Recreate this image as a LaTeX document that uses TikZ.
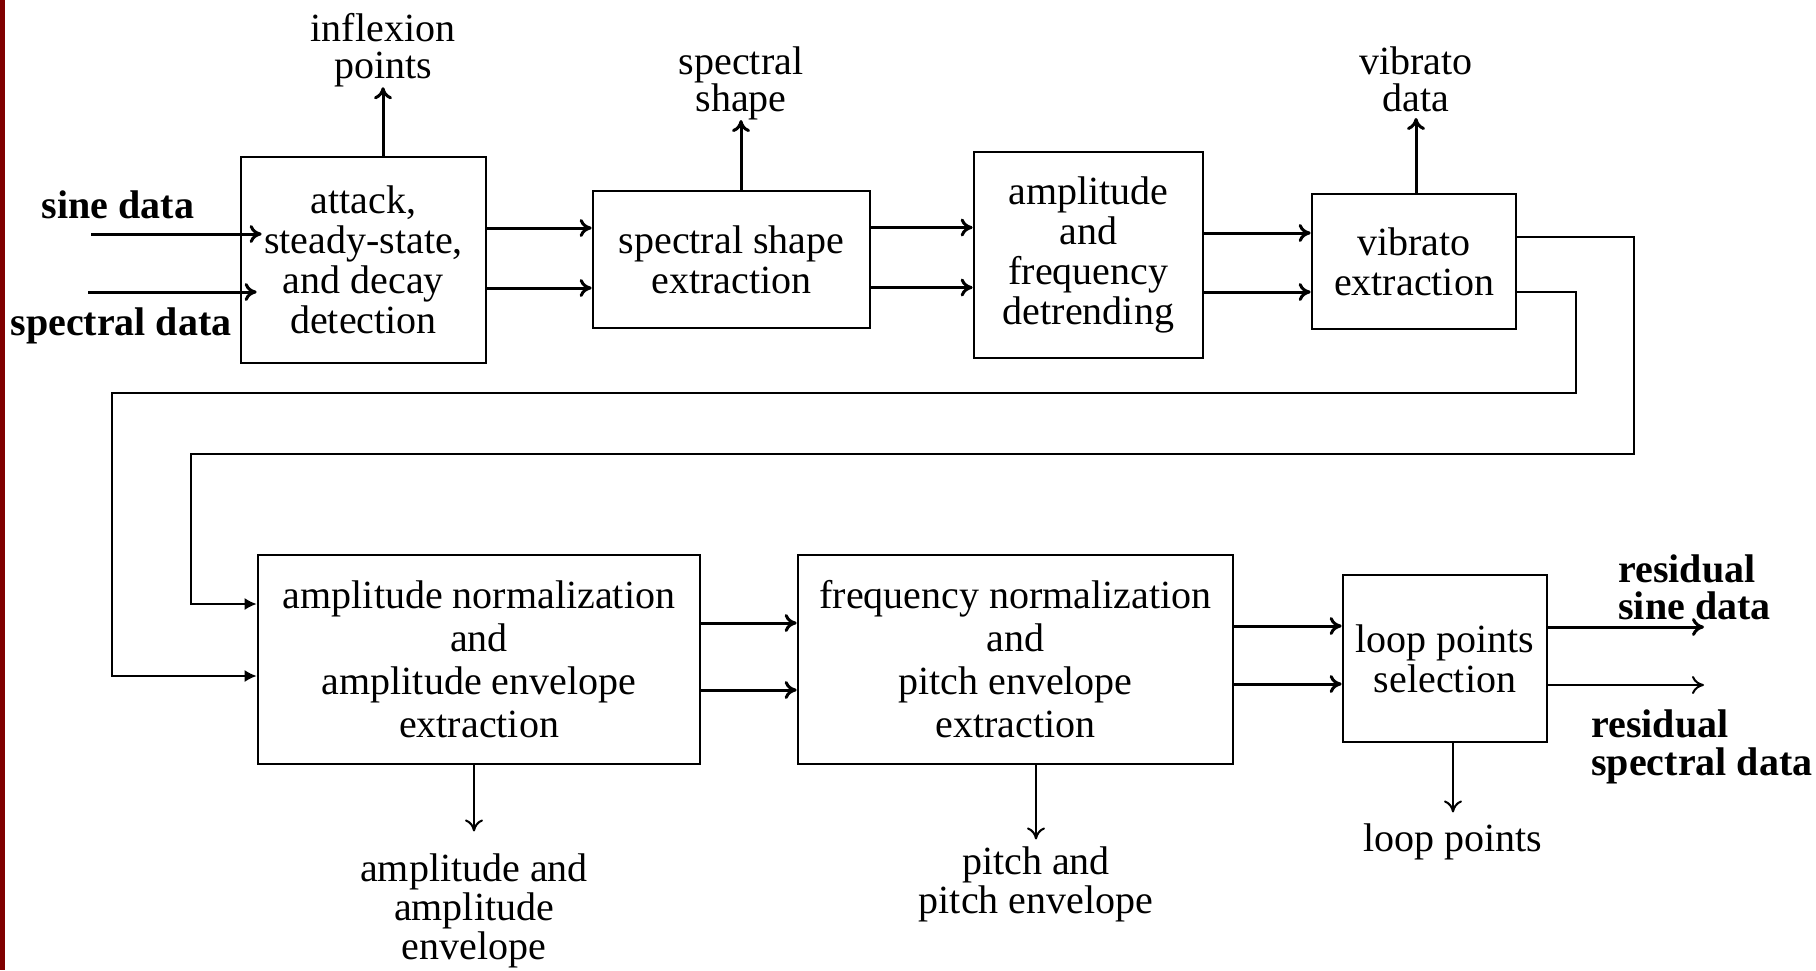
\documentclass[tikz,border=0pt]{standalone}
\usepackage{fontspec}
\setmainfont{Liberation Serif}
\usetikzlibrary{arrows.meta, calc, positioning}

\definecolor{barred}{RGB}{128,0,0}

\begin{document}
\begin{tikzpicture}[
        x=0.5pt, y=-0.5pt,
        >={To[length=6pt,width=9pt]},
        every node/.style={inner sep=0pt, align=center, font=\fontsize{20pt}{20pt}\selectfont},
        block/.style={draw, line width=1.35pt},
        wide/.style={font=\fontsize{20pt}{21.5pt}\selectfont},
        lbl/.style={font=\fontsize{20pt}{18.5pt}\selectfont},
        blbl/.style={font=\bfseries\fontsize{20pt}{18.5pt}\selectfont, align=left},
        bigarr/.style={->, line width=1.5pt},
        smallarr/.style={->, line width=1pt},
        fbarr/.style={-{Latex[length=6pt,width=6pt]}, line width=0.9pt}
    ]
        \useasboundingbox (0,0) rectangle (1816,970);
        \fill[barred] (0,0) rectangle (5,970);

        % Các khối xử lý
        \node[block, minimum width=122.5pt, minimum height=103pt] (att) at (363.5,260) {attack,\\steady-state,\\and decay\\detection};
        \node[block, minimum width=138.5pt, minimum height=68.5pt] (spec) at (731.5,259.5) {spectral shape\\extraction};
        \node[block, minimum width=114.5pt, minimum height=103pt] (detr) at (1088.5,255) {amplitude\\and\\frequency\\detrending};
        \node[block, minimum width=102pt, minimum height=67.5pt] (vib) at (1414,261.5) {vibrato\\extraction};
        \node[block, wide, minimum width=221pt, minimum height=104.5pt] (ampn) at (479,659.5) {amplitude normalization\\and\\amplitude envelope\\extraction};
        \node[block, wide, minimum width=217.5pt, minimum height=104.5pt] (freqn) at (1015.5,659.5) {frequency normalization\\and\\pitch envelope\\extraction};
        \node[block, minimum width=102pt, minimum height=83.5pt] (loop) at (1445,658.5) {loop points\\selection};

        % Nhãn vào / ra
        \node[font=\bfseries\fontsize{20pt}{20pt}\selectfont] (sine) at (118,205) {sine data};
        \node[font=\bfseries\fontsize{20pt}{20pt}\selectfont] (specd) at (121,326) {spectral data};
        \node[lbl] (infl) at (383,50) {inflexion\\points};
        \node[lbl] (sshape) at (741,83) {spectral\\shape};
        \node[lbl] (vdata) at (1416,79) {vibrato\\data};
        \node[font=\fontsize{20pt}{19.5pt}\selectfont] (ampenv) at (474,911) {amplitude and\\amplitude\\envelope};
        \node[font=\fontsize{20pt}{19.5pt}\selectfont] (pitchenv) at (1036,884.5) {pitch and\\pitch envelope};
        \node (lpts) at (1453,842) {loop points};
        \node[blbl, anchor=west] (rsine) at (1618,587) {residual\\sine data};
        \node[blbl, anchor=west, font=\bfseries\fontsize{20pt}{19pt}\selectfont] (rspec) at (1591,747) {residual\\spectral data};

        \coordinate (sinein) at (91,234);
        \coordinate (specin) at (88,292);
        \coordinate (out1) at (1704,627);
        \coordinate (out2) at (1704,685);
        \coordinate (fb1a) at (1576,393);
        \coordinate (fb1b) at (112,393);
        \coordinate (fb2a) at (1634,454);
        \coordinate (fb2b) at (191,454);

        % Hàng trên
        \draw[bigarr] (sinein) -- ($(sinein -| att.west)+(22,0)$);
        \draw[bigarr] (specin) -- ($(specin -| att.west)+(17,0)$);
        \draw[bigarr] ([yshift=16pt]att.east) -- ([yshift=16pt]att.east -| spec.west);
        \draw[bigarr] ([yshift=-14pt]att.east) -- ([yshift=-14pt]att.east -| spec.west);
        \draw[bigarr] ([yshift=16pt]spec.east) -- ([yshift=16pt]spec.east -| detr.west);
        \draw[bigarr] ([yshift=-14pt]spec.east) -- ([yshift=-14pt]spec.east -| detr.west);
        \draw[bigarr] ([yshift=11pt]detr.east) -- ([yshift=11pt]detr.east -| vib.west);
        \draw[bigarr] ([yshift=-18.5pt]detr.east) -- ([yshift=-18.5pt]detr.east -| vib.west);
        \draw[bigarr] (infl.south |- att.north) -- (infl.south);
        \draw[bigarr] (sshape.south |- spec.north) -- (sshape.south);
        \draw[bigarr] (vdata.south |- vib.north) -- ([yshift=-3pt]vdata.south);

        % Đường hồi về hàng dưới
        \draw[fbarr] ([yshift=-15.25pt]vib.east) -| (fb1a) -- (fb1b) |- ([yshift=-8.25pt]ampn.west);
        \draw[fbarr] ([yshift=12.25pt]vib.east) -| (fb2a) -- (fb2b) |- ([yshift=27.75pt]ampn.west);

        % Hàng dưới
        \draw[bigarr] ([yshift=18.25pt]ampn.east) -- ([yshift=18.25pt]ampn.east -| freqn.west);
        \draw[bigarr] ([yshift=-15.25pt]ampn.east) -- ([yshift=-15.25pt]ampn.east -| freqn.west);
        \draw[bigarr] ([yshift=16.75pt]freqn.east) -- ([yshift=16.75pt]freqn.east -| loop.west);
        \draw[bigarr] ([yshift=-12.25pt]freqn.east) -- ([yshift=-12.25pt]freqn.east -| loop.west);
        \draw[bigarr] ([yshift=15.75pt]loop.east) -- (out1);
        \draw[smallarr] ([yshift=-13.25pt]loop.east) -- (out2);
        \draw[smallarr] (ampenv.north |- ampn.south) -- ([yshift=11pt]ampenv.north);
        \draw[smallarr] (pitchenv.north |- freqn.south) -- ([yshift=3.5pt]pitchenv.north);
        \draw[smallarr] (lpts.north |- loop.south) -- ([yshift=5.5pt]lpts.north);
\end{tikzpicture}
\end{document}
